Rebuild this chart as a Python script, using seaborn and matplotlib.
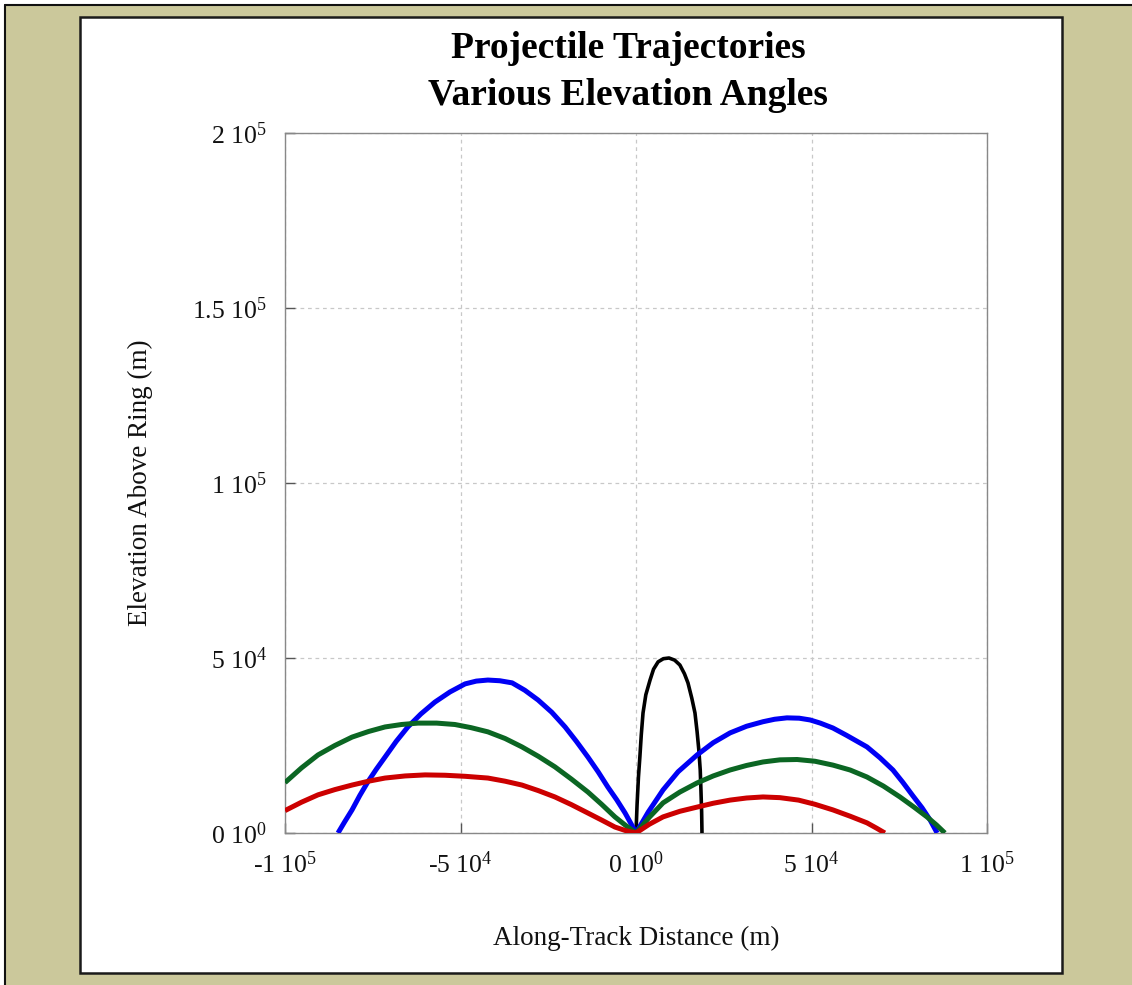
import matplotlib
matplotlib.use("Agg")
import matplotlib.pyplot as plt
import seaborn as sns
import pandas as pd
from matplotlib.patches import Rectangle
from matplotlib.lines import Line2D

# trajectories (metres)
black_x = [0, 300, 700, 1100, 1500, 2000, 2800, 4000, 5000, 6300, 7800, 9400,
           11000, 12500, 13800, 14800, 15900, 16800, 17400, 17900, 18300, 18500, 18700, 18800]
black_y = [0, 8000, 16000, 21700, 28000, 34300, 39500, 43700, 46800, 48900, 49800, 50000,
           49400, 48000, 45500, 42900, 38500, 34300, 29000, 23700, 18000, 12300, 6000, 0]

blue_left_x = [-84900, -83000, -80900, -78700, -76400, -74000, -71500, -68300, -65000, -61300,
               -57300, -53000, -48700, -45500, -42200, -38800, -35300, -31700, -27900, -24000,
               -20200, -17000, -13700, -10800, -8000, -5500, -3100, -1500, 0]
blue_left_y = [0, 3200, 6600, 10700, 14600, 18200, 21700, 26200, 30300, 34000,
               37400, 40300, 42600, 43400, 43700, 43500, 42900, 40800, 38000, 34500,
               30300, 26200, 21700, 17500, 13100, 9500, 5700, 2800, 0]
blue_right_x = [0, 3500, 7700, 12000, 17400, 22000, 26800, 31500, 36200, 39500, 43000, 46500,
                49600, 52500, 56100, 60000, 65800, 69500, 73200, 76000, 78900, 81500, 83800, 85800]
blue_right_y = [0, 6000, 12300, 17500, 22300, 25800, 28600, 30500, 31800, 32500, 32900, 32800,
                32300, 31400, 30000, 27900, 24600, 21500, 18000, 14500, 10600, 7200, 3700, 0]

green_left_x = [-100000, -95300, -90600, -85800, -80900, -76200, -71500, -66800, -62100, -56800,
                -51600, -47000, -42200, -37300, -32500, -27800, -23100, -18400, -13700, -9800,
                -6000, -3000, 0]
green_left_y = [14400, 18600, 22300, 25000, 27400, 29000, 30300, 31000, 31400, 31400,
                31000, 30100, 28900, 27000, 24600, 21900, 18900, 15400, 11700, 8200,
                4600, 2200, 0]
green_right_x = [0, 3800, 7700, 12500, 17400, 22000, 26800, 31500, 36200, 41000, 45900,
                 51000, 56100, 61000, 65800, 70500, 75200, 79200, 82900, 85600, 88000]
green_right_y = [0, 4500, 8600, 11700, 14300, 16300, 18000, 19300, 20300, 20900, 21000,
                 20500, 19400, 18000, 16000, 13400, 10300, 7400, 4600, 2300, 0]

red_left_x = [-100000, -95300, -90600, -85800, -80900, -76200, -71500, -65800, -60100, -54400,
              -48700, -42200, -37300, -32500, -27800, -23100, -18400, -13700, -9800, -6000,
              -3000, 0]
red_left_y = [6400, 8800, 10900, 12400, 13700, 14800, 15700, 16300, 16600, 16500,
              16200, 15700, 14800, 13700, 12100, 10300, 8100, 5700, 3700, 1700,
              700, 0]
red_right_x = [0, 3800, 7700, 12500, 17400, 22000, 26800, 31500, 36200, 41000, 46300,
               51000, 56100, 61000, 65800, 68500, 70900]
red_right_y = [0, 2500, 4600, 6200, 7400, 8500, 9400, 10000, 10300, 10100, 9400,
               8200, 6600, 4800, 2900, 1400, 0]

xticks = [-100000, -50000, 0, 50000, 100000]
xticklabels = ["-1 10$^5$", "-5 10$^4$", "0 10$^0$", "5 10$^4$", "1 10$^5$"]
yticks = [0, 50000, 100000, 150000, 200000]
yticklabels = ["0 10$^0$", "5 10$^4$", "1 10$^5$", "1.5 10$^5$", "2 10$^5$"]

sns.set_style("ticks")
plt.rcParams['font.family'] = ['Liberation Serif', 'DejaVu Serif']
plt.rcParams['mathtext.fontset'] = 'custom'
plt.rcParams['mathtext.rm'] = 'Liberation Serif'
plt.rcParams['mathtext.it'] = 'Liberation Serif:italic'
plt.rcParams['mathtext.bf'] = 'Liberation Serif:bold'

W, H = 1132, 985
fig = plt.figure(figsize=(W / 100, H / 100), dpi=100, facecolor='white')

# background frame
fig.patches.append(Rectangle((5 / W, 0), 1, 1 - 5 / H, transform=fig.transFigure,
                             facecolor='#CBC89B', edgecolor='none', zorder=-3))
fig.lines.append(Line2D([5 / W, 5 / W], [0, 1 - 5 / H], transform=fig.transFigure, color='#111111', lw=1.5))
fig.lines.append(Line2D([5 / W, 1], [1 - 5 / H, 1 - 5 / H], transform=fig.transFigure, color='#111111', lw=1.5))
fig.patches.append(Rectangle((80 / W, 1 - 973 / H), (1062 - 80) / W, (973 - 17) / H,
                             transform=fig.transFigure, facecolor='white', edgecolor='#1a1a1a',
                             lw=1.8, zorder=-2))

ax = fig.add_axes([285 / W, 1 - 833 / H, 702 / W, 700 / H])
ax.set_facecolor('white')

segments = [
    (black_x, black_y, 'black', 2.6),
    (blue_left_x, blue_left_y, '#0000F5', 3.6),
    (blue_right_x, blue_right_y, '#0000F5', 3.6),
    (green_left_x, green_left_y, '#0B6623', 3.6),
    (green_right_x, green_right_y, '#0B6623', 3.6),
    (red_left_x, red_left_y, '#CC0000', 3.6),
    (red_right_x, red_right_y, '#CC0000', 3.6),
]
for xs, ys, col, lw in segments:
    df = pd.DataFrame({'x': xs, 'y': ys})
    sns.lineplot(data=df, x='x', y='y', sort=False, estimator=None, color=col,
                 linewidth=lw, ax=ax, solid_capstyle='butt', solid_joinstyle='round', zorder=3)

ax.set_xlim(-100000, 100000)
ax.set_ylim(0, 200000)
ax.set_xticks(xticks)
ax.set_xticklabels(xticklabels)
ax.set_yticks(yticks)
ax.set_yticklabels(yticklabels)
ax.tick_params(direction='in', length=7, width=1, color='#555555', labelsize=18.5, pad=13,
               labelcolor='#111111')
ax.grid(True, color='#c8c8c8', linestyle=(0, (3, 3)), linewidth=0.9)
for s in ax.spines.values():
    s.set_color('#888888')
    s.set_linewidth(1)

ax.set_xlabel("Along-Track Distance (m)", fontsize=19.5, color='#111111')
ax.set_ylabel("Elevation Above Ring (m)", fontsize=19.5, color='#111111')
ax.xaxis.set_label_coords(0.5, -(926 - 833) / 700)
ax.yaxis.set_label_coords(-(285 - 153) / 702, 0.5)

fig.text(628 / W, 1 - 58 / H, "Projectile Trajectories", ha='center', va='baseline',
         fontsize=27, fontweight='bold', color='black')
fig.text(628 / W, 1 - 105 / H, "Various Elevation Angles", ha='center', va='baseline',
         fontsize=27, fontweight='bold', color='black')

fig.savefig("out.png", dpi=100)
